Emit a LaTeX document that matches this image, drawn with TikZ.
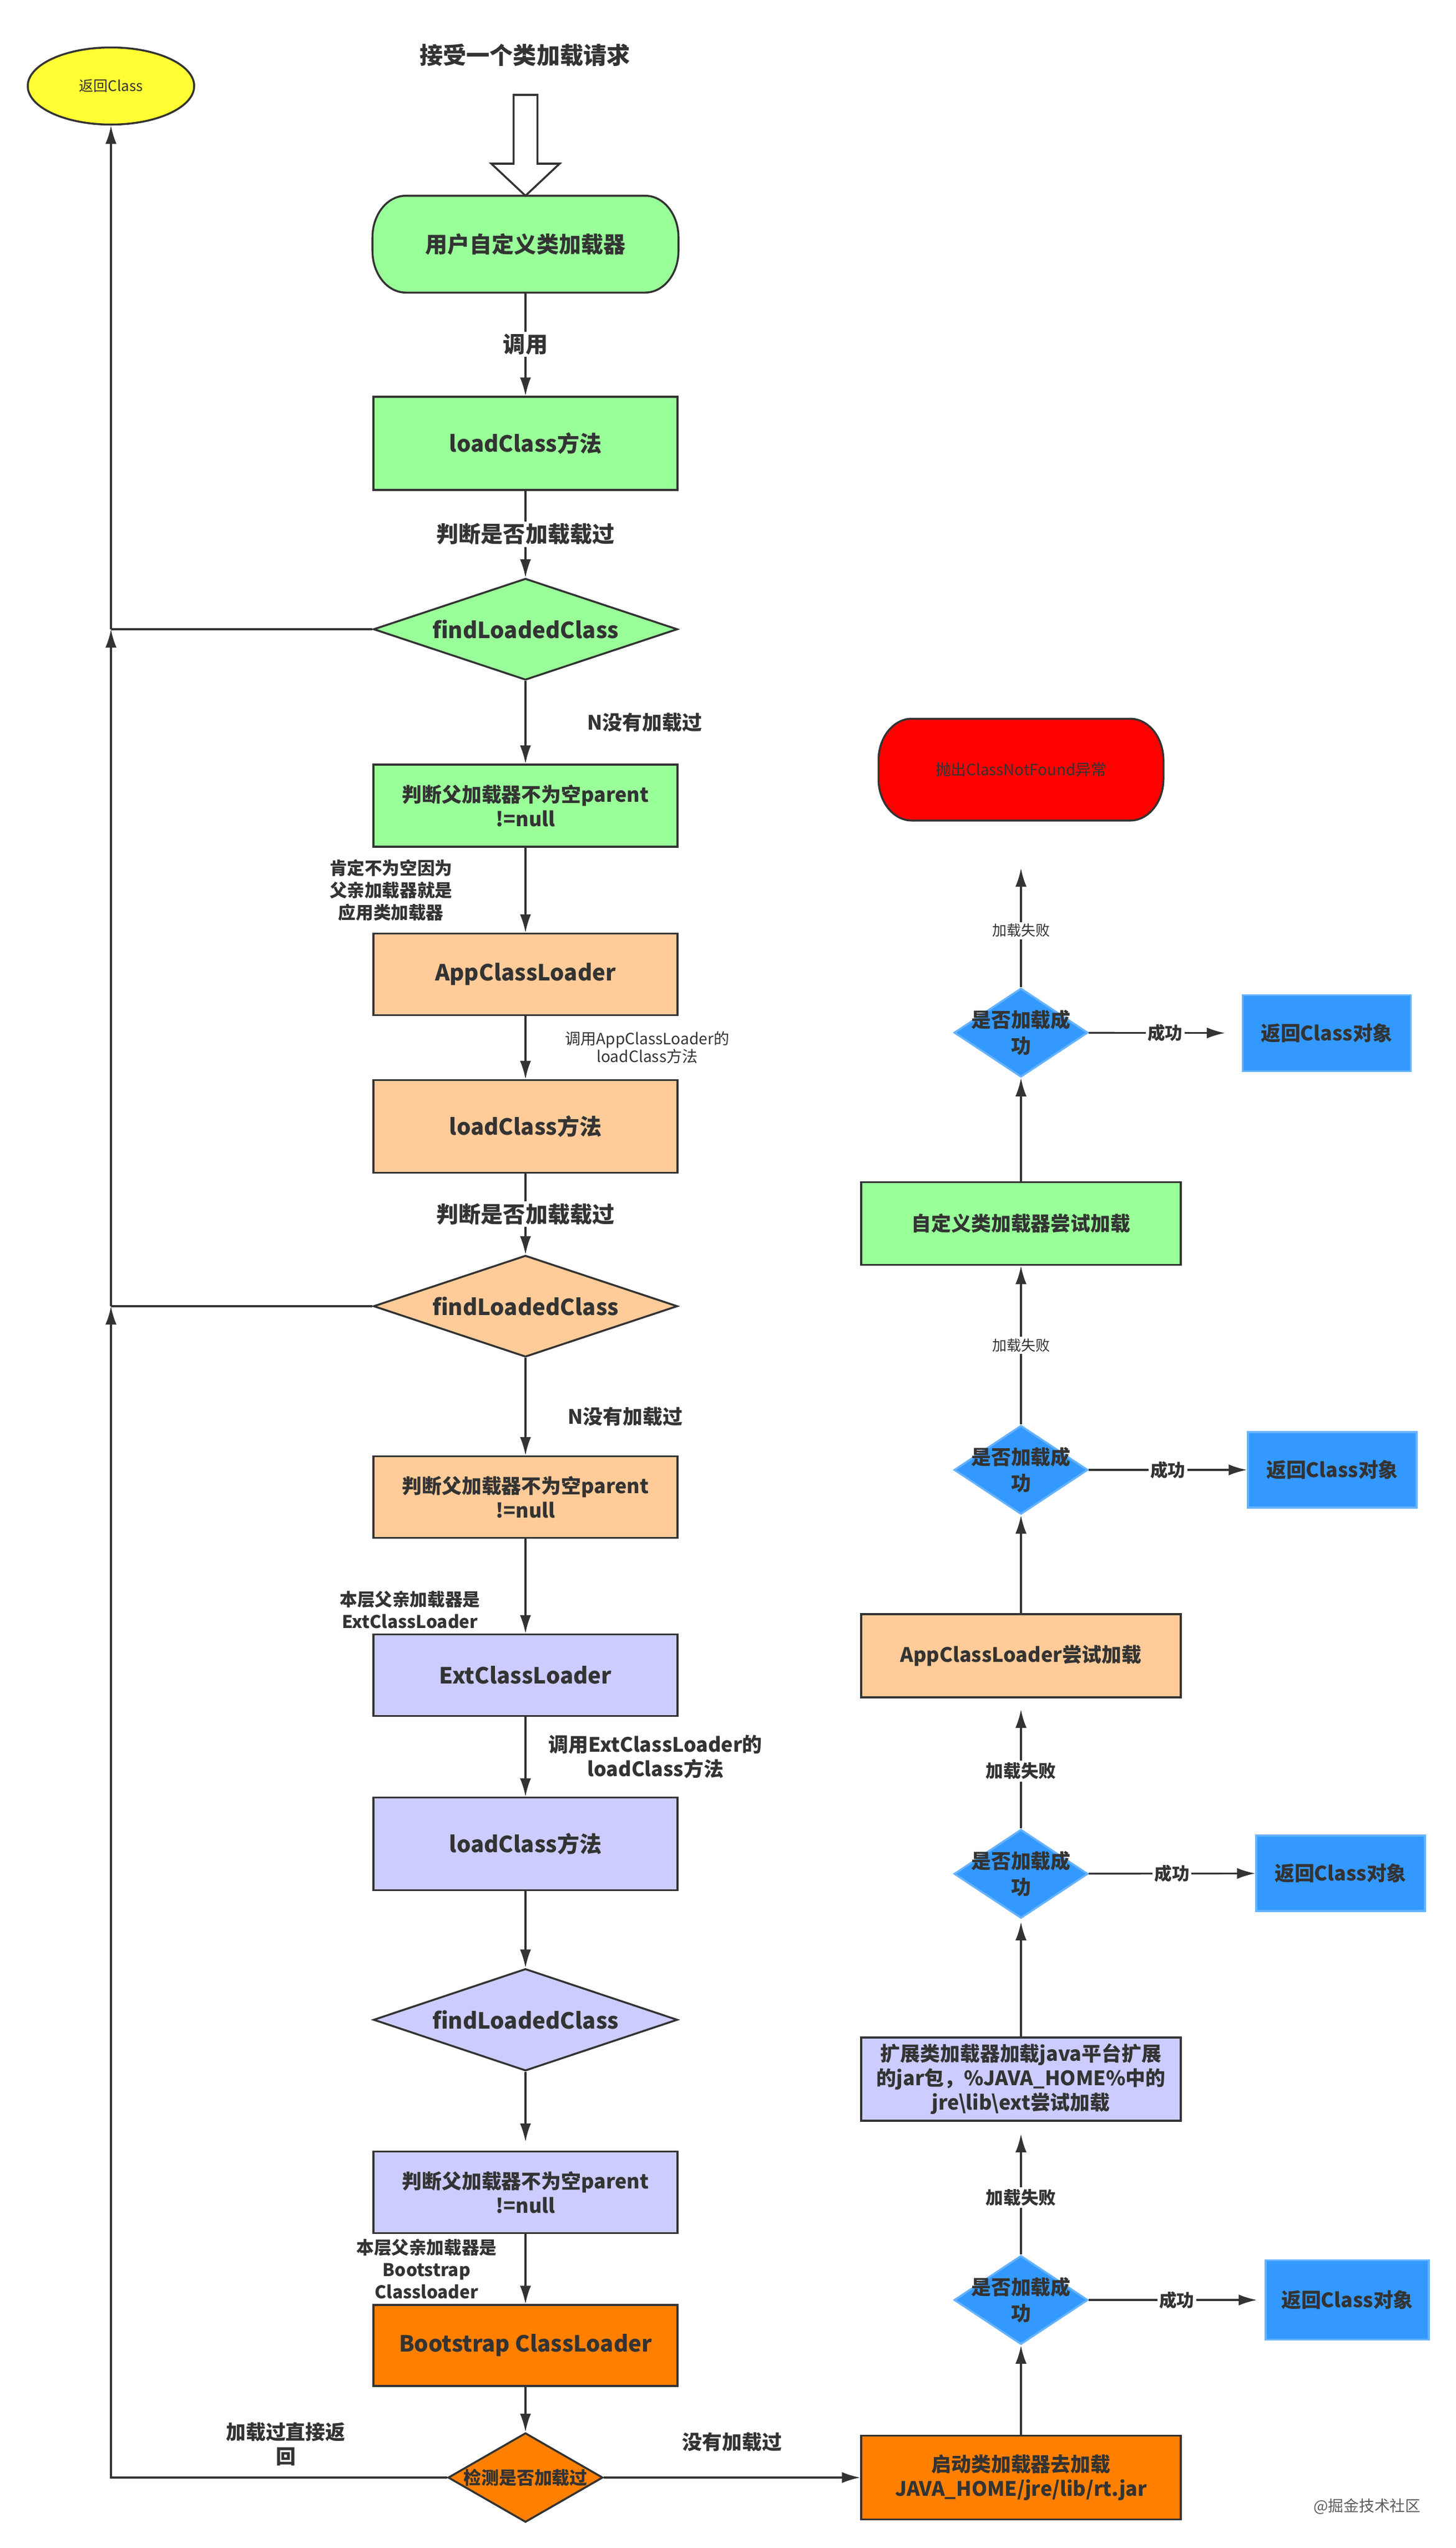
\documentclass[tikz,border=0pt]{standalone}
\usepackage{fontspec}
\setmainfont{Noto Sans CJK SC}
\usetikzlibrary{shapes.geometric,arrows.meta,positioning,backgrounds}
\definecolor{lc}{HTML}{333333}
\definecolor{gfill}{HTML}{99FF99}
\definecolor{ofill}{HTML}{FFCC99}
\definecolor{pfill}{HTML}{CCCCFF}
\definecolor{dfill}{HTML}{FF8000}
\definecolor{bfill}{HTML}{3399FF}
\definecolor{bline}{HTML}{66B2FF}
\definecolor{yfill}{HTML}{FFFF33}
\definecolor{rfill}{HTML}{FF0000}
\newcommand{\fsz}[2]{\fontsize{#1}{#2}\selectfont}
% terminal outline with elliptic ends, drawn behind the node #1
\newcommand{\termback}[2]{%
	\begin{scope}[on background layer]
		\draw[lc, line width=1pt, fill=#2] ([xshift=6mm]#1.north west) -- ([xshift=-6mm]#1.north east)
			arc[start angle=90, end angle=0, x radius=6mm, y radius=7.5mm] -- ([yshift=7.5mm]#1.south east)
			arc[start angle=0, end angle=-90, x radius=6mm, y radius=7.5mm] -- ([xshift=6mm]#1.south west)
			arc[start angle=270, end angle=180, x radius=6mm, y radius=7.5mm] -- ([yshift=-7.5mm]#1.north west)
			arc[start angle=180, end angle=90, x radius=6mm, y radius=7.5mm] -- cycle;
	\end{scope}}

\begin{document}
\begin{tikzpicture}[
		box/.style={draw=lc, line width=1pt, rectangle, align=center, text=lc, inner sep=0pt, font=\bfseries\fsz{11.4}{13}},
		wbox/.style={box, minimum width=5.76cm, minimum height=1.50cm, font=\bfseries\fsz{10.2}{12.5}},
		term/.style={box, draw=none},
		dia/.style={draw=lc, line width=1pt, diamond, inner sep=0pt, minimum width=5.48cm, minimum height=1.83cm},
		bdia/.style={draw=bline, line width=1pt, diamond, fill=bfill, inner sep=0pt, minimum width=2.41cm, minimum height=1.60cm},
		rbox/.style={draw=bline, line width=1pt, fill=bfill, text=lc, inner sep=0pt, minimum width=3.03cm, minimum height=1.37cm, font=\bfseries\fsz{10.2}{12}},
		dtxt/.style={text=lc, align=center, inner sep=0pt, font=\bfseries\fsz{11.4}{13}},
		btxt/.style={text=lc, align=center, inner sep=0pt, font=\bfseries\fsz{10.2}{13.4}},
		lbl/.style={text=lc, align=center, inner sep=0pt, font=\bfseries\fsz{10.2}{12.5}},
		lbls/.style={text=lc, align=center, inner sep=0pt, font=\bfseries\fsz{9}{11.4}},
		note/.style={text=lc, align=center, inner sep=0pt, font=\fsz{8}{9.2}},
		onl/.style={fill=white, text=lc, inner sep=1pt, font=\bfseries\fsz{11.4}{13}},
		onm/.style={fill=white, text=lc, inner sep=1pt, font=\bfseries\fsz{9}{11}},
		ons/.style={fill=white, text=lc, inner sep=1pt, font=\fsz{7.4}{9}},
		line/.style={draw=lc, line width=0.9pt},
		arr/.style={line, -{Latex[length=3.3mm,width=2mm]}}
	]
	\useasboundingbox (0,0) rectangle (26.24,-45.92);

	% Start and return
	\node[text=lc, font=\bfseries\fsz{12}{14}] (title) at (9.46,-1.00) {接受一个类加载请求};
	\node[ellipse, draw=lc, line width=1pt, fill=yfill, text=lc, inner sep=0pt, minimum width=3.00cm, minimum height=1.39cm, font=\fsz{7.4}{9}] (ret) at (2.00,-1.55) {返回Class};

	% Left column: delegation to the parents
	\node[term, minimum width=5.48cm, minimum height=1.71cm] (user) at (9.47,-4.40) {用户自定义类加载器};
	\termback{user}{gfill}
	\node[box, fill=gfill, minimum width=5.48cm, minimum height=1.68cm] (loadA) at (9.47,-7.99) {loadClass方法};
	\node[dia, fill=gfill, label={[dtxt]center:findLoadedClass}] (findA) at (9.47,-11.34) {};
	\node[box, fill=gfill, minimum width=5.48cm, minimum height=1.48cm, font=\bfseries\fsz{10.2}{12.5}] (parentA) at (9.47,-14.52) {判断父加载器不为空parent\\!=null};
	\node[box, fill=ofill, minimum width=5.48cm, minimum height=1.47cm] (app) at (9.47,-17.56) {AppClassLoader};
	\node[box, fill=ofill, minimum width=5.48cm, minimum height=1.67cm] (loadB) at (9.47,-20.30) {loadClass方法};
	\node[dia, fill=ofill, label={[dtxt]center:findLoadedClass}] (findB) at (9.47,-23.54) {};
	\node[box, fill=ofill, minimum width=5.48cm, minimum height=1.47cm, font=\bfseries\fsz{10.2}{12.5}] (parentB) at (9.47,-26.98) {判断父加载器不为空parent\\!=null};
	\node[box, fill=pfill, minimum width=5.48cm, minimum height=1.47cm] (ext) at (9.47,-30.19) {ExtClassLoader};
	\node[box, fill=pfill, minimum width=5.48cm, minimum height=1.67cm] (loadC) at (9.47,-33.23) {loadClass方法};
	\node[dia, fill=pfill, minimum height=1.84cm, label={[dtxt]center:findLoadedClass}] (findC) at (9.47,-36.40) {};
	\node[box, fill=pfill, minimum width=5.48cm, minimum height=1.47cm, font=\bfseries\fsz{10.2}{12.5}] (parentC) at (9.47,-39.51) {判断父加载器不为空parent\\!=null};
	\node[box, fill=dfill, minimum width=5.48cm, minimum height=1.46cm] (boot) at (9.47,-42.27) {Bootstrap ClassLoader};
	\node[dia, fill=dfill, minimum width=2.79cm, minimum height=1.61cm, label={[dtxt, font=\bfseries\fsz{9.1}{11}]center:检测是否加载过}] (check) at (9.47,-44.65) {};

	% Hollow arrow into the first loader
	\draw[lc, line width=1pt, fill=white] (9.255,-1.71) -- (9.685,-1.71) -- (9.685,-2.95) -- (10.085,-2.95)
		-- (user.north) -- (8.855,-2.95) -- (9.255,-2.95) -- cycle;

	\draw[arr] (user) -- node[onl] {调用} (loadA);
	\draw[arr] (loadA) -- node[onl] {判断是否加载载过} (findA);
	\draw[arr] (findA) -- node[lbl, midway, right=11mm] {N没有加载过} (parentA);
	\draw[arr] (parentA) -- node[lbls, midway, left=13mm] {肯定不为空因为\\父亲加载器就是\\应用类加载器} (app);
	\draw[arr] (app) -- node[note, midway, right=7mm] {调用AppClassLoader的\\loadClass方法} (loadB);
	\draw[arr] (loadB) -- node[onl] {判断是否加载载过} (findB);
	\draw[arr] (findB) -- node[lbl, pos=0.6, right=7.5mm] {N没有加载过} (parentB);
	\draw[arr] (parentB) -- node[lbls, pos=0.75, left=8mm] {本层父亲加载器是\\ExtClassLoader} (ext);
	\draw[arr] (ext) -- node[lbl, midway, right=4mm] {调用ExtClassLoader的\\loadClass方法} (loadC);
	\draw[arr] (loadC) -- (findC);
	\draw[arr, shorten >=1.6mm] (findC) -- (parentC);
	\draw[arr] (parentC) -- node[lbls, midway, left=5mm] {本层父亲加载器是\\Bootstrap\\Classloader} (boot);
	\draw[arr] (boot) -- (check);

	% Way back to the return ellipse
	\coordinate (jA) at (2.00,-11.34);
	\coordinate (jB) at (2.00,-23.54);
	\draw[line] (findA) -- (jA);
	\draw[arr] (jA) -- (ret);
	\draw[line] (findB) -- (jB);
	\draw[arr] (jB) -- (jA);
	\draw[arr] (check) -| node[lbl, pos=0.24, above=2mm] {加载过直接返\\回} (jB);

	% Right column: loading from the top down
	\node[term, minimum width=5.10cm, minimum height=1.80cm, font=\fsz{7.9}{9}] (throw) at (18.40,-13.87) {抛出ClassNotFound异常};
	\termback{throw}{rfill}
	\node[bdia, label={[btxt]center:是否加载成\\功}] (diaA) at (18.40,-18.61) {};
	\node[wbox, fill=gfill, minimum height=1.49cm] (custom) at (18.40,-22.05) {自定义类加载器尝试加载};
	\node[bdia, label={[btxt]center:是否加载成\\功}] (diaB) at (18.40,-26.49) {};
	\node[wbox, fill=ofill] (app2) at (18.40,-29.84) {AppClassLoader尝试加载};
	\node[bdia, label={[btxt]center:是否加载成\\功}] (diaC) at (18.40,-33.77) {};
	\node[wbox, fill=pfill] (ext2) at (18.40,-37.47) {扩展类加载器加载java平台扩展\\的jar包，\%JAVA\_HOME\%中的\\jre\textbackslash lib\textbackslash ext尝试加载};
	\node[bdia, label={[btxt]center:是否加载成\\功}] (diaD) at (18.40,-41.45) {};
	\node[wbox, fill=dfill, minimum height=1.51cm] (boot2) at (18.40,-44.65) {启动类加载器去加载\\JAVA\_HOME/jre/lib/rt.jar};

	% Return boxes
	\node[rbox] (retA) at (23.91,-18.62) {返回Class对象};
	\node[rbox, minimum width=3.04cm, minimum height=1.36cm] (retB) at (24.01,-26.49) {返回Class对象};
	\node[rbox, minimum width=3.04cm, minimum height=1.36cm] (retC) at (24.16,-33.76) {返回Class对象};
	\node[rbox, minimum width=2.94cm, minimum height=1.43cm] (retD) at (24.28,-41.45) {返回Class对象};

	\draw[arr] (check) -- node[lbl, midway, above=4.5mm] {没有加载过} (boot2);
	\draw[arr] (boot2) -- (diaD);
	\draw[arr, shorten >=2.2mm] (diaD) -- node[onm, pos=0.43] {加载失败} (ext2);
	\draw[arr, shorten >=0.5mm] (ext2) -- (diaC);
	\draw[arr, shorten >=2mm] (diaC) -- node[onm, pos=0.44] {加载失败} (app2);
	\draw[arr] (app2) -- (diaB);
	\draw[arr] (diaB) -- node[ons] {加载失败} (custom);
	\draw[arr] (custom) -- (diaA);
	\draw[arr, shorten >=8.6mm] (diaA) -- node[ons, pos=0.34] {加载失败} (throw);

	% Success branches
	\foreach \n/\s in {A/3mm,B/0mm,C/0mm,D/1.4mm}
	\draw[arr, shorten >=\s] (dia\n) -- node[onm] {成功} (ret\n);

	\node[text=lc!80, font=\fsz{7.9}{9}] (mark) at (24.64,-45.17) {@掘金技术社区};
\end{tikzpicture}
\end{document}
